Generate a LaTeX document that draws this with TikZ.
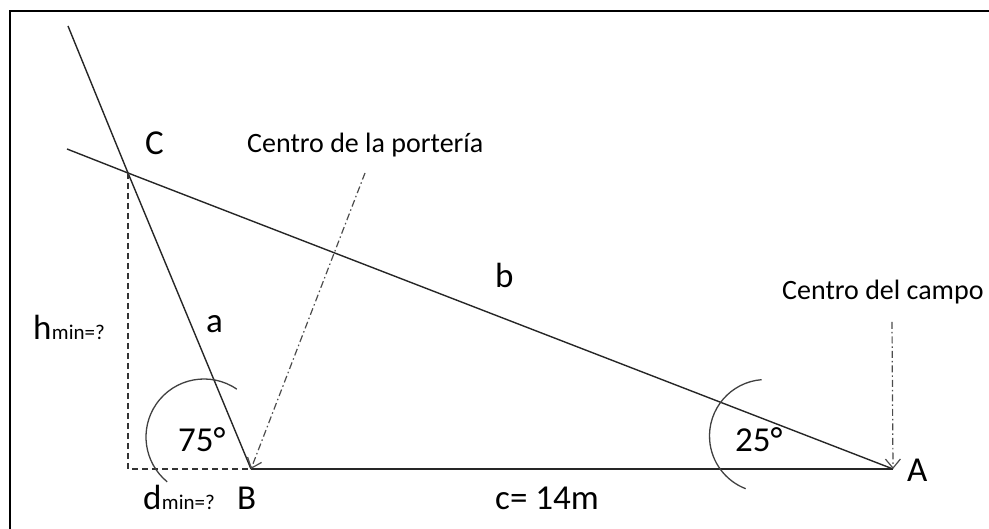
\documentclass[tikz,border=0pt]{standalone}
\usepackage{fontspec}
\setmainfont{Carlito}
\usetikzlibrary{arrows.meta}
\begin{document}
\begin{tikzpicture}[x=1pt,y=1pt,
  geoline/.style={line width=1.4pt,draw=black!85},
  guide/.style={line width=1.3pt,draw=black!80,dash pattern=on 6pt off 4pt},
  pointer/.style={line width=1.2pt,draw=black!70,dash pattern=on 7pt off 3pt on 1.5pt off 3pt,
    -{Straight Barb[length=9pt,width=15pt,line width=1.2pt]}},
  anglearc/.style={line width=1.3pt,draw=black!75},
  biglbl/.style={anchor=base west,inner sep=0pt,font=\fontsize{35}{40}\selectfont},
  smalllbl/.style={anchor=base west,inner sep=0pt,font=\fontsize{28}{32}\selectfont},
  sublbl/.style={anchor=base west,inner sep=0pt,font=\fontsize{21}{24}\selectfont}]
\useasboundingbox (0,0) rectangle (989,529);
% frame
\draw[line width=2.5pt] (10,0) -- (10,518) -- (989,518);
% points
\coordinate (B) at (251,60);
\coordinate (A) at (893,60);
\coordinate (C) at (128,356);
\coordinate (aext) at (68,503);
\coordinate (bext) at (67,380);
\coordinate (foot) at (128,60);
\coordinate (portstart) at (365,356);
\coordinate (campostart) at (892,207);
% lines
\draw[geoline] (aext) -- (C) -- (B);
\draw[geoline] (bext) -- (C) -- (A);
\draw[geoline] (B) -- (A);
\draw[guide] (C) -- (foot) -- (B);
\draw[pointer] (portstart) -- (B);
\draw[pointer] (campostart) -- (A);
% angle arcs
\draw[anglearc] (204,92) ++(55.5:58) arc[start angle=55.5,end angle=230.6,radius=58];
\draw[anglearc] (766,93) ++(94.4:56.5) arc[start angle=94.4,end angle=248.9,radius=56.5];
% labels
\node[biglbl] (lC) at (145,374) {C};
\node[smalllbl] (lport) at (247,376) {Centro de la portería};
\node[biglbl] (lb) at (495,241) {b};
\node[biglbl] (la) at (206,196) {a};
\node[biglbl] (lh) at (33,189) {h};
\node[sublbl] (lhsub) at (lh.base east) {min=?};
\node[biglbl] (l75) at (178,77) {75°};
\node[biglbl] (ld) at (143,19) {d};
\node[sublbl] (ldsub) at (ld.base east) {min=?};
\node[biglbl] (lB) at (237,19) {B};
\node[biglbl] (lc) at (495,19) {c= 14m};
\node[biglbl] (l25) at (735,77) {25°};
\node[biglbl] (lA) at (907,47) {A};
\node[smalllbl] (lcampo) at (782,229) {Centro del campo};
\end{tikzpicture}
\end{document}
